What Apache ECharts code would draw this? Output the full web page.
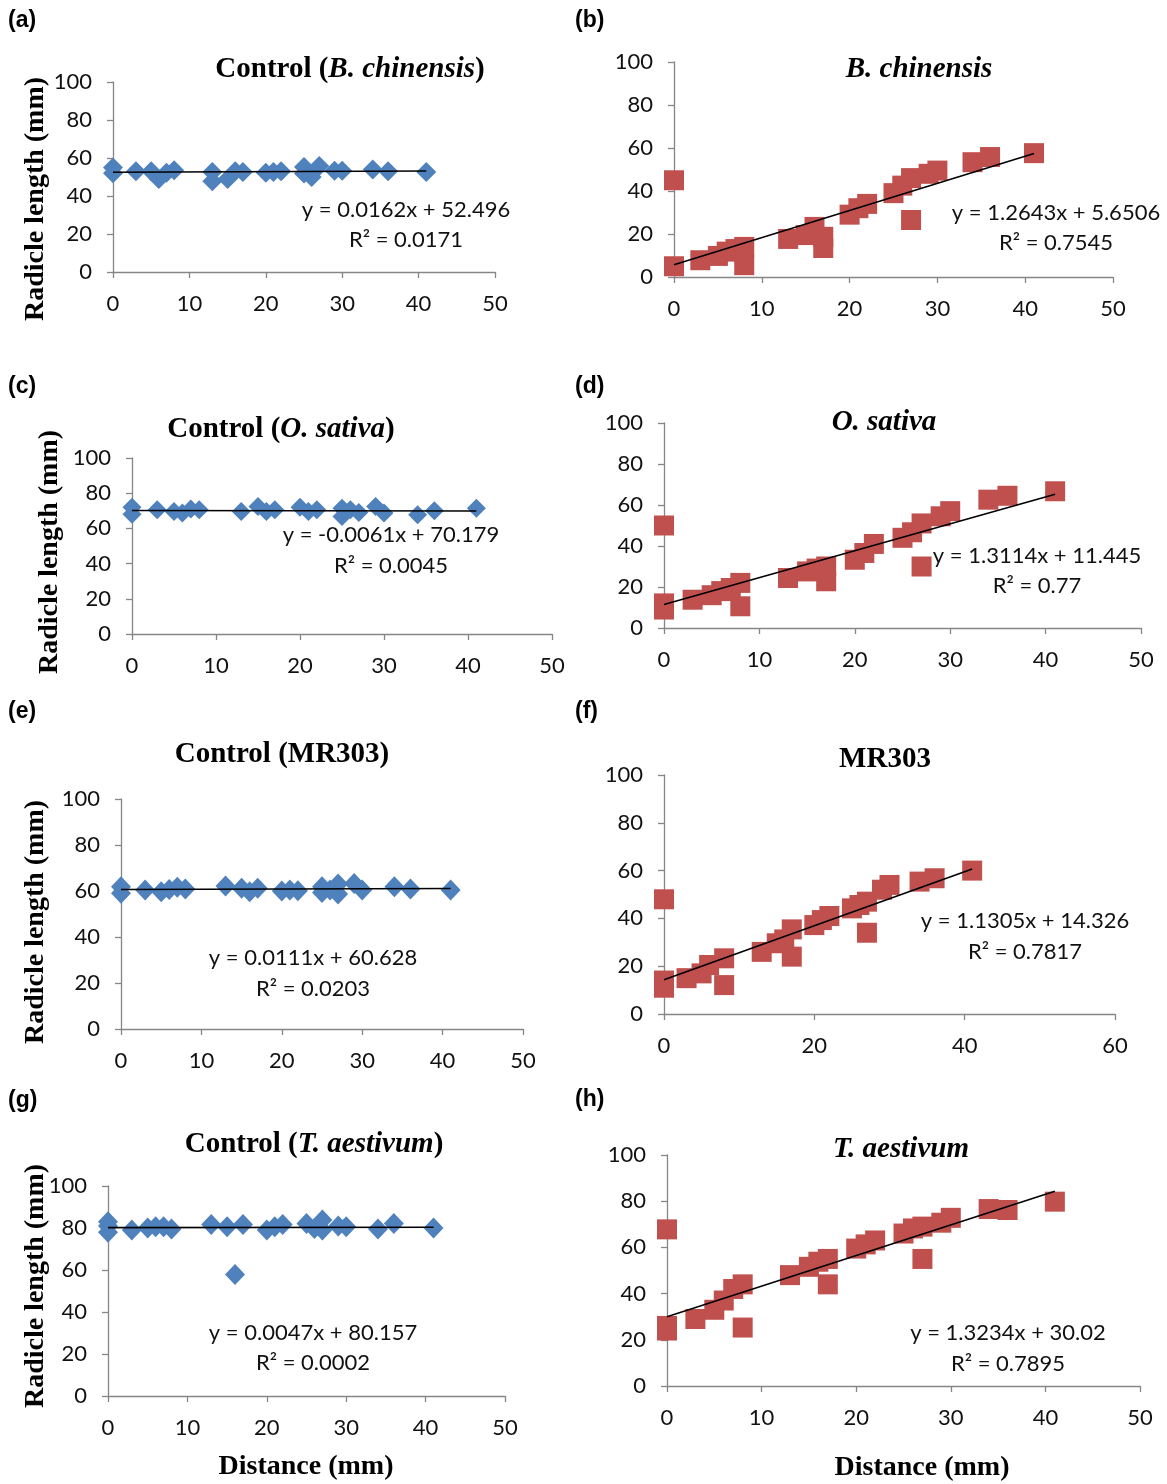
<!DOCTYPE html>
<html>
<head>
<meta charset="utf-8">
<script src="https://cdn.jsdelivr.net/npm/echarts@6/dist/echarts.min.js"></script>
<style>
html,body{margin:0;padding:0;background:#fff;}
#chart{width:1167px;height:1484px;}
</style>
</head>
<body>
<div id="chart"></div>
<script>
// ---------- DATA ----------
const aX = [0,0,3,5,6,7,8,13,13,15,16,17,20,21,22,25,25,26,27,29,30,34,36,41];
const aY = [55,52,53,53,49,52.3,53.5,52.6,47.7,49,53,52.6,52.3,52.6,53,55.3,51.8,50,55.8,53.3,53.3,54,53,52.6];
const bX = [0,0,3,5,6,7,8,8,13,15,16,17,17,20,21,22,25,26,27,27,29,30,34,36,41];
const bY = [45,5,7.8,9.8,11.8,13,14,5.5,17.7,19.5,23.3,18.7,13.5,29,32,34,39,42.5,46,26.5,48,49.5,53.4,55.8,57.6];
const cX = [0,0,3,5,6,7,8,13,15,16,17,20,21,22,25,25,26,27,29,30,34,36,41];
const cY = [72,68,70.6,69.6,68.7,71,70.6,69.6,72.5,69.6,70.6,72,69.6,70.6,71.5,66.8,70.6,69,72.5,68.7,67.7,70,71.5];
const dX = [0,0,0,3,5,6,7,8,8,13,15,16,17,17,20,21,22,25,26,27,27,29,30,34,36,41];
const dY = [50,12,9,13.8,16,18,19.5,22,10.6,24.4,27.6,29,30,22.8,33.3,36.6,41,44,46.7,51,30,54.5,57,62.6,64.5,66.7];
const eX = [0,0,3,5,6,7,8,13,15,16,17,20,21,22,25,25,26,27,27,29,30,34,36,41];
const eY = [61.9,59,60.4,59.7,60.7,61.6,60.9,62.2,61.2,59.7,61.2,60,60.4,60.1,61.9,59.3,60.4,63,58.7,63.3,60.4,61.9,60.9,60.4];
const fX = [0,0,0,3,5,6,8,8,13,15,16,17,17,20,21,22,25,26,27,27,29,30,34,36,41];
const fY = [48,14,11,15,17,20.5,23.3,12.1,26,29.6,31.2,35.4,24,37.2,39.3,41,44.2,45.6,47,34,52,54,55.4,56.8,60];
const gX = [0,0,0,3,5,6,7,8,13,15,16,17,20,21,22,25,26,27,27,29,30,34,36,41];
const gY = [83,81,78,79,80,80.6,80.6,79.5,81.7,80.6,57.9,81.7,79,80.6,81.7,82.2,79.8,83.8,79,81,80.6,79.5,82.2,80];
const hX = [0,0,0,3,5,6,7,8,8,13,15,16,17,17,20,21,22,25,26,27,27,29,30,34,36,41];
const hY = [67.8,26,24,29,33,37,42,44,25.3,48,51.6,53.8,55,44,59.5,61.3,63,66,68.2,69,55,70.7,72.8,76.6,76.2,79.8];

const slopes     = [0.0162, 1.2643, -0.0061, 1.3114, 0.0111, 1.1305, 0.0047, 1.3234];
const intercepts = [52.496, 5.6506, 70.179, 11.445, 60.628, 14.326, 80.157, 30.02];
const eqLines    = ['y = 0.0162x + 52.496','y = 1.2643x + 5.6506','y = -0.0061x + 70.179','y = 1.3114x + 11.445',
                    'y = 0.0111x + 60.628','y = 1.1305x + 14.326','y = 0.0047x + 80.157','y = 1.3234x + 30.02'];
const r2Lines    = ['R² = 0.0171','R² = 0.7545','R² = 0.0045','R² = 0.77','R² = 0.0203','R² = 0.7817','R² = 0.0002','R² = 0.7895'];
const panelLabels = ['(a)','(b)','(c)','(d)','(e)','(f)','(g)','(h)'];
// titles: [normal prefix, italic part, normal suffix]
const titleParts = [
  ['Control (','B. chinensis',')'], ['','B. chinensis',''],
  ['Control (','O. sativa',')'],    ['','O. sativa',''],
  ['Control (MR303)','',''],        ['MR303','',''],
  ['Control (','T. aestivum',')'],  ['','T. aestivum','']
];
const xMaxes = [50,50,50,50,50,60,50,50];
const xSteps = [10,10,10,10,10,20,10,10];
const yAxisTitle = 'Radicle length (mm)';
const xAxisTitle = 'Distance (mm)';

// ---------- LAYOUT ----------
const xs = [aX,bX,cX,dX,eX,fX,gX,hX];
const ys = [aY,bY,cY,dY,eY,fY,gY,hY];
const grids = [
  {left:113, top:82,   width:382, height:190},
  {left:674, top:62,   width:439, height:215},
  {left:132, top:458,  width:420, height:176},
  {left:664, top:423,  width:477, height:205},
  {left:121, top:799,  width:402, height:230},
  {left:664, top:775,  width:451, height:239},
  {left:108, top:1186, width:397, height:210},
  {left:667, top:1155, width:473, height:231}
];
const titlePos = [[350,70],[919,70],[281,430],[884,423],[282,755],[885,760],[314,1145],[901,1150]];
const eqPos = [[406,210,240],[1056,213,243],[391,535,566],[1037,556,586],[313,958,989],[1025,921,952],[313,1333,1363],[1008,1333,1364]];
const labelPos = [[8,21],[575,21],[8,387],[575,387],[8,712],[575,712],[8,1101],[575,1100]];
const yTitlePos = [[36,199],[50,552],[36,922],[36,1286]];
const xTitlePos = [[306,1467],[922,1468]];
const symSizes = [20,20,[19,19],20,[20,21],20,[20,21],20];

const BLUE = '#4F81BD', RED = '#C0504D', AXIS = '#868686';
const SANS = 'Lato, "Open Sans", sans-serif';
const SERIF = '"Liberation Serif", "DejaVu Serif", serif';

const xAxes = [], yAxes = [], series = [], graphics = [];
for (let i = 0; i < 8; i++) {
  const common = {
    gridIndex: i,
    axisLine: {show: true, onZero: false, lineStyle: {color: AXIS, width: 1.3}},
    axisTick: {show: true, inside: false, length: 6, lineStyle: {color: AXIS, width: 1.3}},
    splitLine: {show: false},
    axisLabel: {color: '#111', fontFamily: SANS, fontSize: 22}
  };
  xAxes.push(Object.assign({}, common, {type: 'value', min: 0, max: xMaxes[i], interval: xSteps[i],
    axisLabel: Object.assign({}, common.axisLabel, {margin: 21})}));
  yAxes.push(Object.assign({}, common, {type: 'value', min: 0, max: 100, interval: 20,
    axisLabel: Object.assign({}, common.axisLabel, {margin: 21})}));
  const red = i % 2 === 1;
  series.push({
    type: 'scatter', xAxisIndex: i, yAxisIndex: i,
    symbol: red ? 'rect' : 'diamond', symbolSize: symSizes[i],
    itemStyle: {color: red ? RED : BLUE, opacity: 1},
    data: xs[i].map((x, k) => [x, ys[i][k]]),
    z: 2, silent: true
  });
  const xEnd = Math.max.apply(null, xs[i]);
  series.push({
    type: 'line', xAxisIndex: i, yAxisIndex: i, symbol: 'none',
    lineStyle: {color: '#000', width: 1.6},
    data: [[0, intercepts[i]], [xEnd, slopes[i] * xEnd + intercepts[i]]],
    z: 3, silent: true
  });
  // title
  const tp = titleParts[i];
  let txt = '';
  if (tp[0]) txt += '{n|' + tp[0] + '}';
  if (tp[1]) txt += '{i|' + tp[1] + '}';
  if (tp[2]) txt += '{n|' + tp[2] + '}';
  graphics.push({type: 'text', x: titlePos[i][0], y: titlePos[i][1], z: 10,
    style: {text: txt, align: 'center', verticalAlign: 'middle', fill: '#000',
      fontFamily: SERIF, fontSize: 29, fontWeight: 'bold',
      rich: {
        n: {fontFamily: SERIF, fontSize: 29, fontWeight: 'bold', fontStyle: 'normal', fill: '#000'},
        i: {fontFamily: SERIF, fontSize: 29, fontWeight: 'bold', fontStyle: 'italic', fill: '#000'}
      }}});
  // equation
  graphics.push({type: 'text', x: eqPos[i][0], y: eqPos[i][1], z: 10,
    style: {text: eqLines[i], align: 'center', verticalAlign: 'middle', fill: '#111', fontFamily: SANS, fontSize: 22}});
  graphics.push({type: 'text', x: eqPos[i][0], y: eqPos[i][2], z: 10,
    style: {text: r2Lines[i], align: 'center', verticalAlign: 'middle', fill: '#111', fontFamily: SANS, fontSize: 22}});
  // panel label
  graphics.push({type: 'text', x: labelPos[i][0], y: labelPos[i][1], z: 10,
    style: {text: panelLabels[i], align: 'left', verticalAlign: 'middle', fill: '#000',
      fontFamily: '"Liberation Sans", Arial, sans-serif', fontSize: 23, fontWeight: 'bold'}});
}
yTitlePos.forEach(p => {
  graphics.push({type: 'text', x: p[0], y: p[1], rotation: Math.PI / 2, z: 10,
    style: {text: yAxisTitle, align: 'center', verticalAlign: 'middle', fill: '#000',
      fontFamily: SERIF, fontSize: 28, fontWeight: 'bold'}});
});
xTitlePos.forEach(p => {
  graphics.push({type: 'text', x: p[0], y: p[1], z: 10,
    style: {text: xAxisTitle, align: 'center', verticalAlign: 'middle', fill: '#000',
      fontFamily: SERIF, fontSize: 28, fontWeight: 'bold'}});
});

const chart = echarts.init(document.getElementById('chart'), null, {renderer: 'canvas'});
chart.setOption({
  backgroundColor: '#fff',
  animation: false,
  grid: grids.map(g => Object.assign({containLabel: false}, g)),
  xAxis: xAxes,
  yAxis: yAxes,
  series: series,
  graphic: graphics
});
</script>
</body>
</html>
